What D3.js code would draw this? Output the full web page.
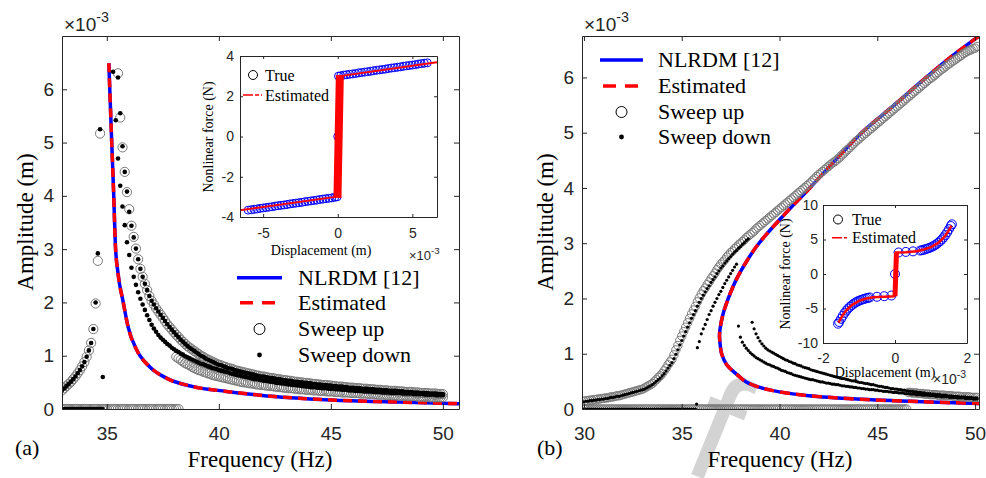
<!DOCTYPE html>
<html>
<head>
<meta charset="utf-8">
<script src="https://cdn.jsdelivr.net/npm/d3@7/dist/d3.min.js"></script>
<style>
    body { margin: 0; background: #fff; }
    svg { display: block; }
</style>
</head>
<body>
<div id="my_dataviz"></div>
<script>
// amplitudes in 1e-3 m, inset displacements in 1e-3 m, forces in N
var STEP = 0.1;   // frequency step of the stepped sweeps (Hz)

// ---------- panel (a) ----------
var aUpZero = [33.0, 38.2];          // sweep up, branch resting on 0
var aUpRiseStart = 33.0;
var aUpRise = [0.35,0.39,0.43,0.47,0.51,0.56,0.61,0.67,0.73,0.80,0.88,0.98,1.10,1.24,1.50,1.98,2.78,5.17];
var aUpPeakStart = 35.5;
var aUpPeak = [6.30,5.47,4.91,4.45,4.07,
    3.75,3.44,3.23,3.01,2.81,2.63,2.48,2.35,2.23,2.12,
    2.03,1.96,1.89,1.83,1.77,1.71,1.65,1.59,1.54,1.49,
    1.44,1.39,1.35,1.30,1.26,1.22,1.18,1.15,1.12,1.09,
    1.06,1.03,1.00,0.98,0.95,0.93,0.91,0.89,0.87,0.85,
    0.83,0.82,0.80,0.79,0.77,0.76,0.75,0.73,0.72,0.71,
    0.70,0.69,0.68,0.67,0.66,0.65,0.64,0.63,0.62,0.61,
    0.61,0.60,0.59,0.58,0.58,0.57,0.56,0.56,0.55,0.54,
    0.54,0.53,0.53,0.52,0.51,0.51,0.50,0.50,0.49,0.49,
    0.48,0.48,0.47,0.47,0.46,0.46,0.45,0.45,0.45,0.44,
    0.44,0.43,0.43,0.42,0.42,0.42,0.41,0.41,0.40,0.40,
    0.40,0.39,0.39,0.39,0.38,0.38,0.38,0.37,0.37,0.37,
    0.36,0.36,0.36,0.35,0.35,0.35,0.34,0.34,0.34,0.34,
    0.33,0.33,0.33,0.32,0.32,0.32,0.32,0.31,0.31,0.31,
    0.30,0.30,0.30,0.30,0.29,0.29,0.29,0.29,0.28,0.28,
    0.28];
var aUpLowStart = 38.1;
var aUpLow = [0.98,0.95,0.92,0.89,0.86,0.84,0.82,0.79,0.77,
    0.75,0.73,0.72,0.70,0.69,0.67,0.66,0.64,0.63,0.62,
    0.61,0.60,0.59,0.58,0.57,0.56,0.55,0.54,0.53,0.52,
    0.51,0.50,0.50,0.49,0.48,0.48,0.47,0.46,0.46,0.45,
    0.45,0.44,0.44,0.43,0.43,0.42,0.42,0.41,0.41,0.40,
    0.40,0.39,0.39,0.39,0.38,0.38,0.37,0.37,0.37,0.36,
    0.36,0.36,0.35,0.35,0.35,0.34,0.34,0.34,0.33,0.33,
    0.33,0.33,0.32,0.32,0.32,0.31,0.31,0.31,0.31,0.30,
    0.30,0.30,0.30,0.29,0.29,0.29,0.29,0.28,0.28,0.28,
    0.28,0.27,0.27,0.27,0.27,0.26,0.26,0.26,0.26,0.26,
    0.25,0.25,0.25,0.25,0.24,0.24,0.24,0.24,0.24,0.23,
    0.23,0.23,0.23,0.23,0.22,0.22,0.22,0.22,0.22,0.22,
    0.22];

var aDownZero = [33.0, 34.8];
var aDownRiseStart = 33.0;
var aDownRise = [0.35,0.39,0.43,0.47,0.51,0.56,0.61,0.67,0.73,0.80,0.88,0.98,1.10,1.24,1.50,2.00,2.92];
var aDownOdd = [[34.70,5.25],[34.82,0.60],[35.28,6.33],[35.50,6.22]];
var aDownUpStart = 35.6;
var aDownUp = [5.55,4.93,4.45,4.08,
    3.70,3.44,3.22,3.01,2.81,2.63,2.48,2.35,2.23,2.12,
    2.03,1.96,1.89,1.83,1.77,1.71,1.65,1.59,1.54,1.49,
    1.44,1.39,1.35,1.30,1.26,1.22,1.18,1.15,1.12,1.09,
    1.06,1.03,1.00,0.98,0.95,0.93,0.91,0.89,0.87,0.85,
    0.83,0.82,0.80,0.79,0.77,0.76,0.75,0.73,0.72,0.71,
    0.70,0.69,0.68,0.67,0.66,0.65,0.64,0.63,0.62,0.61,
    0.61,0.60,0.59,0.58,0.58,0.57,0.56,0.56,0.55,0.54,
    0.54,0.53,0.53,0.52,0.51,0.51,0.50,0.50,0.49,0.49,
    0.48,0.48,0.47,0.47,0.46,0.46,0.45,0.45,0.45,0.44,
    0.44,0.43,0.43,0.42,0.42,0.42,0.41,0.41,0.40,0.40,
    0.40,0.39,0.39,0.39,0.38,0.38,0.38,0.37,0.37,0.37,
    0.36,0.36,0.36,0.35,0.35,0.35,0.34,0.34,0.34,0.34,
    0.33,0.33,0.33,0.32,0.32,0.32,0.32,0.31,0.31,0.31,
    0.30,0.30,0.30,0.30,0.29,0.29,0.29,0.29,0.28,0.28,
    0.28];
var aDownLowStart = 35.4;
var aDownLow = [5.42,4.70,4.19,3.80,3.45,3.13,
    2.89,2.65,2.48,2.33,2.19,2.07,1.96,1.86,1.76,1.67,
    1.58,1.51,1.45,1.39,1.34,1.30,1.26,1.22,1.19,1.15,
    1.12,1.09,1.07,1.04,1.02,0.99,0.97,0.95,0.93,0.91,
    0.89,0.87,0.85,0.84,0.82,0.80,0.79,0.77,0.76,0.75,
    0.73,0.72,0.71,0.70,0.69,0.67,0.66,0.65,0.64,0.63,
    0.62,0.61,0.60,0.59,0.58,0.57,0.56,0.56,0.55,0.54,
    0.53,0.53,0.52,0.51,0.51,0.50,0.49,0.49,0.48,0.48,
    0.47,0.46,0.46,0.45,0.45,0.44,0.44,0.43,0.43,0.42,
    0.42,0.41,0.41,0.41,0.40,0.40,0.39,0.39,0.39,0.38,
    0.38,0.38,0.37,0.37,0.37,0.36,0.36,0.36,0.35,0.35,
    0.35,0.34,0.34,0.34,0.34,0.33,0.33,0.33,0.33,0.32,
    0.32,0.32,0.32,0.31,0.31,0.31,0.31,0.30,0.30,0.30,
    0.30,0.30,0.29,0.29,0.29,0.29,0.29,0.28,0.28,0.28,
    0.28,0.28,0.27,0.27,0.27,0.27,0.27,0.26,0.26,0.26,
    0.26];

// frequency response curves [Hz, amplitude]
var aNlrdm = [[35.09,6.49],[35.22,5.00],[35.31,4.00],[35.38,3.10],[35.50,2.55],[35.73,2.01],[35.95,1.54],
    [36.33,1.11],[36.92,0.79],[37.66,0.58],[38.85,0.42],[40.34,0.33],[41.83,0.26],[45.00,0.17],[48.00,0.13],[50.72,0.10]];
var aEstimated = [[35.09,6.49],[35.22,5.00],[35.31,4.00],[35.38,3.10],[35.50,2.55],[35.73,2.01],[35.95,1.54],
    [36.33,1.11],[36.92,0.79],[37.66,0.58],[38.85,0.42],[40.34,0.33],[41.83,0.26],[45.00,0.17],[48.00,0.13],[50.72,0.10]];

// inset (a): nonlinear force vs displacement
var aTrueDisp = [-6.00,-5.80,-5.60,-5.40,-5.20,-5.00,-4.80,-4.60,-4.40,-4.20,-4.00,-3.80,-3.60,-3.40,-3.20,-3.00,
    -2.80,-2.60,-2.40,-2.20,-2.00,-1.80,-1.60,-1.40,-1.20,-1.00,-0.80,-0.60,-0.40,-0.20,-0.05,0.00,0.05,
    0.20,0.40,0.60,0.80,1.00,1.20,1.40,1.60,1.80,2.00,2.20,2.40,2.60,2.80,3.00,3.20,3.40,3.60,3.80,4.00,
    4.20,4.40,4.60,4.80,5.00,5.20,5.40,5.60,5.80,6.00];
var aTrueForce = [-3.66,-3.64,-3.62,-3.60,-3.57,-3.55,-3.53,-3.51,-3.49,-3.46,-3.44,-3.42,-3.40,-3.38,-3.35,-3.33,
    -3.31,-3.29,-3.27,-3.24,-3.22,-3.20,-3.18,-3.16,-3.13,-3.11,-3.09,-3.07,-3.05,-3.02,-3.00,0.00,3.00,
    3.02,3.05,3.07,3.09,3.11,3.13,3.16,3.18,3.20,3.22,3.24,3.27,3.29,3.31,3.33,3.35,3.38,3.40,3.42,3.44,
    3.46,3.49,3.51,3.53,3.55,3.57,3.60,3.62,3.64,3.66];
var aEst = [[-6.55,-3.66],[-0.15,-3.00],[0.15,3.00],[6.65,3.69]];
var aEstStick = [[-0.02,-3.05],[0.14,3.05]];

// ---------- panel (b) ----------
var bUpZero = [30.0, 46.5];
var bUpBandStart = 30.0;
var bUpBand = [0.14,0.15,0.15,0.16,0.16,0.17,0.17,0.18,0.18,0.19,
    0.19,0.20,0.20,0.21,0.22,0.22,0.23,0.24,0.24,0.25,
    0.26,0.27,0.28,0.29,0.30,0.31,0.32,0.33,0.34,0.35,
    0.36,0.38,0.40,0.42,0.44,0.46,0.50,0.53,0.57,0.60,
    0.64,0.69,0.74,0.80,0.85,0.90,0.98,1.07,1.15,1.24,
    1.32,1.40,1.48,1.56,1.64,1.72,1.79,1.86,1.94,2.01,
    2.08,2.14,2.19,2.25,2.30,2.36,2.41,2.46,2.52,2.57,
    2.62,2.66,2.70,2.75,2.79,2.83,2.86,2.90,2.93,2.97,
    3.00,3.03,3.06,3.10,3.13,3.16,3.19,3.22,3.26,3.29,
    3.32,3.35,3.38,3.41,3.44,3.47,3.50,3.53,3.56,3.59,
    3.62,3.65,3.68,3.71,3.74,3.77,3.80,3.83,3.86,3.89,
    3.92,3.95,3.98,4.01,4.04,4.07,4.10,4.14,4.17,4.21,
    4.24,4.27,4.30,4.33,4.36,4.39,4.42,4.45,4.47,4.50,
    4.53,4.56,4.60,4.63,4.67,4.70,4.73,4.77,4.80,4.84,
    4.87,4.90,4.93,4.96,4.99,5.02,5.05,5.08,5.11,5.14,
    5.17,5.20,5.23,5.26,5.29,5.32,5.35,5.38,5.41,5.44,
    5.47,5.50,5.53,5.56,5.59,5.62,5.65,5.68,5.71,5.74,
    5.77,5.80,5.83,5.86,5.89,5.92,5.95,5.98,6.00,6.03,
    6.06,6.09,6.12,6.15,6.17,6.20,6.23,6.25,6.28,6.30,
    6.33,6.35,6.38,6.40,6.43,6.45,6.47,6.49,6.50,6.52,
    6.53,6.56];
var bUpTailStart = 46.6;
var bUpTail = [0.30,0.30,0.29,0.29,0.29,0.28,0.28,0.28,0.27,0.27,0.27,0.26,0.26,0.26,0.26,0.25,0.25,0.25,
    0.25,0.24,0.24,0.24,0.24,0.23,0.23,0.23,0.23,0.22,0.22,0.22,0.22,0.22,0.21,0.21,0.21,0.21];

var bDownZero = [30.0, 35.7];
var bDownOdd = [[35.76,0.09]];
var bDownBandStart = 30.0;
var bDownBand = [0.13,0.14,0.14,0.15,0.15,0.16,0.16,0.17,0.17,0.18,
    0.18,0.19,0.19,0.20,0.21,0.21,0.22,0.23,0.23,0.24,
    0.25,0.26,0.27,0.28,0.29,0.30,0.31,0.32,0.33,0.34,
    0.35,0.36,0.38,0.40,0.42,0.44,0.47,0.50,0.53,0.56,
    0.60,0.64,0.69,0.74,0.79,0.84,0.91,0.99,1.07,1.16,
    1.24,1.32,1.40,1.48,1.56,1.64,1.71,1.78,1.86,1.93,
    2.00,2.06,2.12,2.18,2.23,2.29,2.34,2.39,2.45,2.50,
    2.55,2.59,2.64,2.68,2.72,2.76,2.80,2.84,2.87,2.91,
    2.94,2.98,3.01,3.05,3.08];
var bDownMidStart = 35.8;
var bDownMid = [1.11,1.22,1.36,1.45,1.53,1.62,1.71,1.78,1.86,1.93,2.00,2.07,2.13,2.20,2.27,2.33,2.39,2.45,2.51,2.57,2.62];
var bDownTail1Start = 38.6;
var bDownTail1 = [1.57,1.45,1.36,1.29,
    1.23,1.18,1.14,1.10,1.07,1.05,1.03,1.01,0.99,0.97,
    0.95,0.93,0.91,0.89,0.88,0.86,0.85,0.83,0.82,0.80,
    0.79,0.78,0.76,0.75,0.74,0.73,0.71,0.70,0.69,0.68,
    0.67,0.66,0.65,0.64,0.63,0.62,0.61,0.60,0.59,0.58,
    0.57,0.56,0.55,0.55,0.54,0.53,0.52,0.51,0.51,0.50,
    0.49,0.48,0.48,0.47,0.46,0.46,0.45,0.44,0.44,0.43,
    0.42,0.41,0.41,0.40,0.39,0.39,0.38,0.37,0.37,0.36,
    0.36,0.35,0.35,0.34,0.34,0.33,0.33,0.32,0.32,0.31,
    0.31,0.30,0.30,0.29,0.29,0.28,0.28,0.28,0.27,0.27,
    0.26,0.26,0.26,0.25,0.25,0.25,0.24,0.24,0.24,0.23,
    0.23,0.23,0.22,0.22,0.22,0.22,0.21,0.21,0.21,0.20,
    0.20,0.20];
var bDownTail2Start = 37.9;
var bDownTail2 = [1.50,
    1.30,1.21,1.15,1.10,1.06,1.02,0.99,0.96,0.93,0.91,
    0.89,0.87,0.85,0.83,0.81,0.80,0.78,0.77,0.75,0.74,
    0.72,0.70,0.69,0.68,0.66,0.65,0.64,0.62,0.61,0.60,
    0.59,0.58,0.57,0.56,0.55,0.54,0.53,0.53,0.52,0.51,
    0.50,0.49,0.49,0.48,0.47,0.47,0.46,0.45,0.45,0.44,
    0.44,0.43,0.42,0.42,0.41,0.41,0.40,0.40,0.39,0.39,
    0.38,0.38,0.37,0.37,0.36,0.36,0.35,0.35,0.35,0.34,
    0.34,0.33,0.33,0.32,0.32,0.32,0.31,0.31,0.30,0.30,
    0.30,0.29,0.29,0.29,0.28,0.28,0.28,0.27,0.27,0.27,
    0.26,0.26,0.26,0.25,0.25,0.25,0.25,0.24,0.24,0.24,
    0.23,0.23,0.23,0.22,0.22,0.22,0.22,0.21,0.21,0.21,
    0.21,0.20,0.20,0.20,0.20,0.19,0.19,0.19,0.19,0.18,
    0.18,0.18];

var bNlrdm = [[50.17,6.74],[48.80,6.38],[47.50,6.00],[45.80,5.48],[44.20,5.00],[42.80,4.48],[41.55,4.00],
    [40.20,3.50],[38.95,3.00],[38.40,2.72],[37.80,2.35],[37.38,2.00],[37.10,1.70],[36.96,1.45],[36.93,1.32],
    [36.97,1.15],[37.04,1.00],[37.30,0.80],[37.80,0.63],[38.30,0.49],[39.00,0.39],[40.00,0.31],[41.50,0.24],
    [43.95,0.18],[47.36,0.13],[50.20,0.10]];
var bEstimated = [[50.17,6.74],[48.80,6.38],[47.50,6.00],[45.80,5.48],[44.20,5.00],[42.80,4.48],[41.55,4.00],
    [40.20,3.50],[38.95,3.00],[38.40,2.72],[37.80,2.35],[37.38,2.00],[37.10,1.70],[36.96,1.45],[36.93,1.32],
    [36.97,1.15],[37.04,1.00],[37.30,0.80],[37.80,0.63],[38.30,0.49],[39.00,0.39],[40.00,0.31],[41.50,0.24],
    [43.95,0.18],[47.36,0.13],[50.20,0.10]];

// inset (b)
var bTrueDisp = [-1.58,-1.55,-1.50,-1.45,-1.40,-1.35,-1.30,-1.25,-1.20,-1.15,-1.10,-1.05,-1.00,-0.95,-0.90,-0.85,
    -0.80,-0.75,-0.70,-0.50,-0.30,-0.10,0.00,0.10,0.30,0.50,0.70,0.75,0.80,0.85,0.90,0.95,1.00,1.05,1.10,
    1.15,1.20,1.25,1.30,1.35,1.40,1.45,1.50,1.55,1.58];
var bTrueForce = [-7.20,-6.95,-6.50,-6.05,-5.65,-5.30,-5.00,-4.75,-4.52,-4.32,-4.15,-4.00,-3.88,-3.78,-3.68,-3.60,
    -3.52,-3.45,-3.40,-3.30,-3.22,-3.12,0.00,3.12,3.20,3.28,3.40,3.45,3.52,3.60,3.68,3.78,3.88,4.00,4.15,
    4.32,4.52,4.75,5.00,5.30,5.65,6.05,6.50,6.95,7.20];
var bEst = [[-1.57,-7.05],[-1.45,-5.95],[-1.35,-5.25],[-1.20,-4.50],[-1.00,-3.90],[-0.80,-3.55],[-0.60,-3.38],
    [-0.30,-3.28],[-0.02,-3.22],[0.02,3.10],[0.30,3.15],[0.60,3.30],[0.80,3.55],[1.00,3.90],[1.20,4.50],
    [1.35,5.25],[1.45,5.95],[1.57,7.00]];
var bEstStick = [[0.00,-3.22],[0.04,3.10]];

// tick values
var aXTicks = [35, 40, 45, 50], aYTicks = [0, 1, 2, 3, 4, 5, 6];
var bXTicks = [30, 35, 40, 45, 50], bYTicks = [0, 1, 2, 3, 4, 5, 6];
var iaXTicks = [-5, 0, 5], iaYTicks = [-4, -2, 0, 2, 4];
var ibXTicks = [-2, 0, 2], ibYTicks = [-10, -5, 0, 5, 10];

var legendLabels = ["NLRDM [12]", "Estimated", "Sweep up", "Sweep down"];

// ---------- helpers ----------
function sweep(start, amps) {
    return amps.map(function (a, i) { return [start + i * STEP, a]; });
}
function rest(range) {
    return d3.range(range[0], range[1] + STEP / 2, STEP).map(function (f) { return [f, 0]; });
}
function pairs(xs, ys) {
    return xs.map(function (v, i) { return [v, ys[i]]; });
}

var SERIF = "'Liberation Serif', 'Times New Roman', serif";
var SANS = "'Liberation Sans', Arial, sans-serif";

var svg = d3.select("#my_dataviz").append("svg")
    .attr("width", 986).attr("height", 478);

// watermark fragment (sits behind the figure)
svg.append("text").attr("transform", "translate(679,469) rotate(22)")
    .style("font-family", SANS).style("font-size", "150px").attr("fill", "#d3d3d3").text("f");

function scales(box, xDom, yDom) {
    return {
        x: d3.scaleLinear().domain(xDom).range([box.x0, box.x1]),
        y: d3.scaleLinear().domain(yDom).range([box.y1, box.y0])
    };
}

function clipRect(id, box) {
    svg.append("clipPath").attr("id", id).append("rect")
        .attr("x", box.x0).attr("y", box.y0)
        .attr("width", box.x1 - box.x0).attr("height", box.y1 - box.y0);
}

function frame(s, box, xTicks, yTicks, o) {
    var g = svg.append("g");
    var fmt = function (d) { return String(d); };
    var none = function () { return ""; };
    g.append("g").attr("transform", "translate(0," + box.y1 + ")")
        .call(d3.axisBottom(s.x).tickValues(xTicks).tickFormat(fmt).tickSize(-o.tick).tickSizeOuter(0).tickPadding(o.xPad));
    g.append("g").attr("transform", "translate(0," + box.y0 + ")")
        .call(d3.axisTop(s.x).tickValues(xTicks).tickFormat(none).tickSize(-o.tick).tickSizeOuter(0));
    g.append("g").attr("transform", "translate(" + box.x0 + ",0)")
        .call(d3.axisLeft(s.y).tickValues(yTicks).tickFormat(fmt).tickSize(-o.tick).tickSizeOuter(0).tickPadding(o.yPad));
    g.append("g").attr("transform", "translate(" + box.x1 + ",0)")
        .call(d3.axisRight(s.y).tickValues(yTicks).tickFormat(none).tickSize(-o.tick).tickSizeOuter(0));
    g.selectAll("path.domain").attr("stroke", "#262626").attr("stroke-width", 1);
    g.selectAll(".tick line").attr("stroke", "#262626").attr("stroke-width", 1);
    g.selectAll(".tick text").attr("fill", "#262626")
        .style("font-family", SANS).style("font-size", o.font + "px");
}

function circles(layer, s, data, r, color) {
    layer.append("g").selectAll("circle").data(data).enter().append("circle")
        .attr("cx", function (d) { return s.x(d[0]); })
        .attr("cy", function (d) { return s.y(d[1]); })
        .attr("r", r).attr("fill", "none").attr("stroke", color).attr("stroke-width", 1);
}

function dots(layer, s, data, r) {
    layer.append("g").selectAll("circle").data(data).enter().append("circle")
        .attr("cx", function (d) { return s.x(d[0]); })
        .attr("cy", function (d) { return s.y(d[1]); })
        .attr("r", r).attr("fill", "#000");
}

function curve(layer, s, data, color, width, dash, type) {
    var line = d3.line()
        .x(function (d) { return s.x(d[0]); })
        .y(function (d) { return s.y(d[1]); })
        .curve(type || d3.curveLinear);
    layer.append("path").datum(data).attr("d", line)
        .attr("fill", "none").attr("stroke", color).attr("stroke-width", width)
        .attr("stroke-dasharray", dash).attr("stroke-linejoin", "round");
}

function label(x, y, txt, size, rotate, anchor) {
    var t = svg.append("text").attr("text-anchor", anchor || "middle")
        .style("font-family", SERIF).style("font-size", size + "px").attr("fill", "#000").text(txt);
    if (rotate) t.attr("transform", "translate(" + x + "," + y + ") rotate(-90)");
    else t.attr("x", x).attr("y", y);
    return t;
}

function exponent(x, y, size) {
    var t = svg.append("text").attr("x", x).attr("y", y).attr("fill", "#262626")
        .style("font-family", SANS).style("font-size", size + "px");
    t.append("tspan").text("\u00d710");
    t.append("tspan").attr("dy", -size * 0.45).style("font-size", (size * 0.75) + "px").text("-3");
}

function mainLegend(x0, x1, tx, rows) {
    var mid = (x0 + x1) / 2;
    svg.append("line").attr("x1", x0).attr("x2", x1).attr("y1", rows[0]).attr("y2", rows[0])
        .attr("stroke", "#0000ff").attr("stroke-width", 3.5);
    svg.append("line").attr("x1", x0 + 3).attr("x2", x1 - 2).attr("y1", rows[1]).attr("y2", rows[1])
        .attr("stroke", "#ff0000").attr("stroke-width", 3.5).attr("stroke-dasharray", "13,9");
    svg.append("circle").attr("cx", mid).attr("cy", rows[2]).attr("r", 5.5)
        .attr("fill", "none").attr("stroke", "#000").attr("stroke-width", 1);
    svg.append("circle").attr("cx", mid).attr("cy", rows[3]).attr("r", 2.4).attr("fill", "#000");
    legendLabels.forEach(function (d, i) {
        label(tx, rows[i] + 7, d, 22, false, "start");
    });
}

function insetLegend(cx, tx, y1, y2, lx0, lx1, size) {
    svg.append("circle").attr("cx", cx).attr("cy", y1).attr("r", 4.5)
        .attr("fill", "none").attr("stroke", "#000").attr("stroke-width", 1);
    label(tx, y1 + 5.5, "True", size, false, "start");
    svg.append("line").attr("x1", lx0).attr("x2", lx1).attr("y1", y2).attr("y2", y2)
        .attr("stroke", "#ff0000").attr("stroke-width", 1.5).attr("stroke-dasharray", "10,2,4,2");
    label(tx, y2 + 5.5, "Estimated", size, false, "start");
}

// ---------- panel (a) ----------
var boxA = {x0: 62, x1: 459, y0: 36, y1: 409};
var sA = scales(boxA, [33, 50.72], [0, 7]);
clipRect("clipA", boxA);
var plotA = svg.append("g").attr("clip-path", "url(#clipA)");
curve(plotA, sA, aNlrdm, "#0000ff", 3.5, null, d3.curveMonotoneX);
curve(plotA, sA, aEstimated, "#ff0000", 3.5, "9,6", d3.curveMonotoneX);
circles(plotA, sA, rest(aUpZero), 4.6, "#7a7a7a");
circles(plotA, sA, sweep(aUpRiseStart, aUpRise), 4.6, "#7a7a7a");
circles(plotA, sA, sweep(aUpPeakStart, aUpPeak), 4.6, "#7a7a7a");
circles(plotA, sA, sweep(aUpLowStart, aUpLow), 4.6, "#7a7a7a");
dots(plotA, sA, rest(aDownZero), 2.3);
dots(plotA, sA, sweep(aDownRiseStart, aDownRise), 2.3);
dots(plotA, sA, aDownOdd, 2.3);
dots(plotA, sA, sweep(aDownUpStart, aDownUp), 2.3);
dots(plotA, sA, sweep(aDownLowStart, aDownLow), 2.3);
frame(sA, boxA, aXTicks, aYTicks, {tick: 5, xPad: 18, yPad: 8, font: 19});
exponent(64, 31, 19);
label(260, 467, "Frequency (Hz)", 23);
label(33, 222, "Amplitude (m)", 23, true);
label(15, 455, "(a)", 22, false, "start");
mainLegend(237, 282, 298, [277.7, 302.7, 329, 355]);

// inset (a)
var boxIA = {x0: 240, x1: 437, y0: 56, y1: 217};
var sIA = scales(boxIA, [-6.55, 6.65], [-4, 4]);
svg.append("rect").attr("x", boxIA.x0).attr("y", boxIA.y0)
    .attr("width", boxIA.x1 - boxIA.x0).attr("height", boxIA.y1 - boxIA.y0).attr("fill", "#fff");
clipRect("clipIA", boxIA);
var plotIA = svg.append("g").attr("clip-path", "url(#clipIA)");
circles(plotIA, sIA, pairs(aTrueDisp, aTrueForce), 4, "#0000ff");
curve(plotIA, sIA, aEst, "#ff0000", 2, null);
curve(plotIA, sIA, aEstStick, "#ff0000", 8, null);
frame(sIA, boxIA, iaXTicks, iaYTicks, {tick: 3, xPad: 11, yPad: 6, font: 14});
insetLegend(253, 265, 75, 95, 243, 262, 16);
label(321, 255, "Displacement (m)", 14);
label(213, 137, "Nonlinear force (N)", 14, true);
exponent(409, 260, 13);

// ---------- panel (b) ----------
var boxB = {x0: 582, x1: 979, y0: 36, y1: 409};
var sB = scales(boxB, [29.9, 50.2], [0, 6.75]);
clipRect("clipB", boxB);
var plotB = svg.append("g").attr("clip-path", "url(#clipB)");
curve(plotB, sB, bNlrdm, "#0000ff", 3.5, null, d3.curveCatmullRom);
curve(plotB, sB, bEstimated, "#ff0000", 3.5, "10,6", d3.curveCatmullRom);
circles(plotB, sB, rest(bUpZero), 4.2, "#7a7a7a");
circles(plotB, sB, sweep(bUpBandStart, bUpBand), 4.2, "#7a7a7a");
circles(plotB, sB, sweep(bUpTailStart, bUpTail), 4.2, "#7a7a7a");
dots(plotB, sB, rest(bDownZero), 1.6);
dots(plotB, sB, bDownOdd, 1.6);
dots(plotB, sB, sweep(bDownBandStart, bDownBand), 1.6);
dots(plotB, sB, sweep(bDownMidStart, bDownMid), 1.6);
dots(plotB, sB, sweep(bDownTail1Start, bDownTail1), 1.6);
dots(plotB, sB, sweep(bDownTail2Start, bDownTail2), 1.6);
frame(sB, boxB, bXTicks, bYTicks, {tick: 5, xPad: 18, yPad: 8, font: 19});
exponent(584, 31, 19);
label(780, 467, "Frequency (Hz)", 23);
label(553, 222, "Amplitude (m)", 23, true);
label(537, 455, "(b)", 22, false, "start");
mainLegend(600, 643, 658, [60, 86, 112, 137]);

// inset (b)
var boxIB = {x0: 823, x1: 967, y0: 205, y1: 343};
var sIB = scales(boxIB, [-2, 2], [-10, 10]);
svg.append("rect").attr("x", boxIB.x0).attr("y", boxIB.y0)
    .attr("width", boxIB.x1 - boxIB.x0).attr("height", boxIB.y1 - boxIB.y0).attr("fill", "#fff");
clipRect("clipIB", boxIB);
var plotIB = svg.append("g").attr("clip-path", "url(#clipIB)");
circles(plotIB, sIB, pairs(bTrueDisp, bTrueForce), 4.5, "#0000ff");
curve(plotIB, sIB, bEst, "#ff0000", 2.5, null);
curve(plotIB, sIB, bEstStick, "#ff0000", 5, null);
frame(sIB, boxIB, ibXTicks, ibYTicks, {tick: 3, xPad: 10, yPad: 5, font: 14});
insetLegend(838, 852, 219.5, 237.7, 832, 847, 16);
label(885, 377, "Displacement (m)", 14);
label(790, 274, "Nonlinear force (N)", 14, true);
exponent(933, 384, 14);
</script>
</body>
</html>
